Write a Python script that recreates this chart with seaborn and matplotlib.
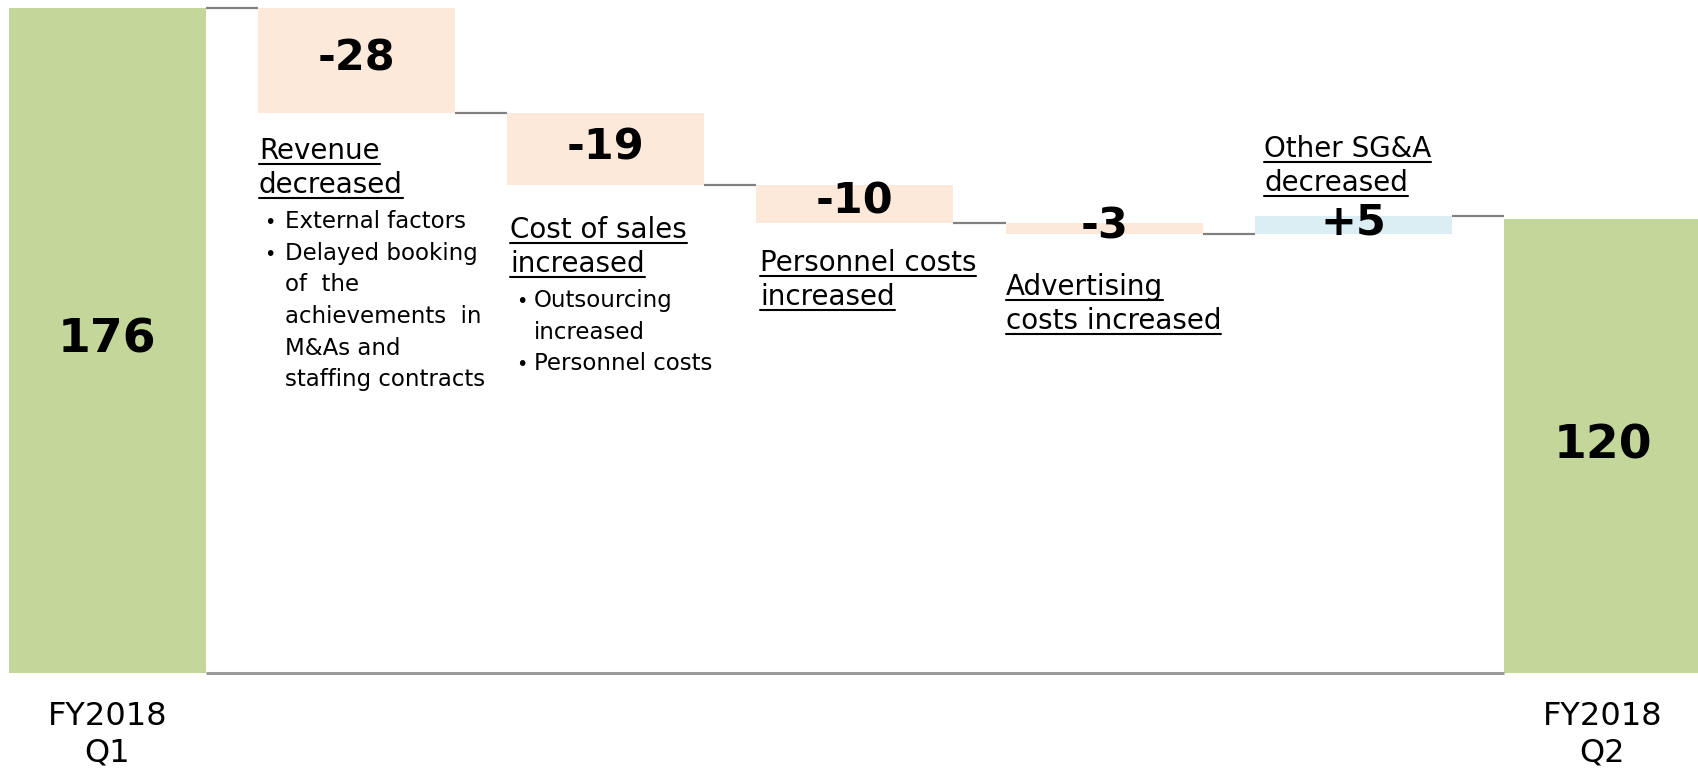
import matplotlib
matplotlib.use("Agg")
import matplotlib.pyplot as plt
import seaborn as sns
import numpy as np
from matplotlib.lines import Line2D

sns.set_theme(style="white")
plt.rcParams['font.family'] = ['DejaVu Sans']

# ---- data ----
categories = ["FY2018 Q1", "Revenue", "Cost of sales", "Personnel", "Advertising", "Other SG&A", "FY2018 Q2"]
values = [176, -28, -19, -10, -3, 5, 120]
is_total = [True, False, False, False, False, False, True]
value_labels = ["176", "-28", "-19", "-10", "-3", "+5", "120"]
axis_labels = ["FY2018\nQ1", "", "", "", "", "", "FY2018\nQ2"]
headings = [None, ["Revenue", "decreased"], ["Cost of sales", "increased"],
            ["Personnel costs", "increased"], ["Advertising", "costs increased"],
            ["Other SG&A", "decreased"], None]
bullets = [None,
           [("External factors",), ("Delayed booking", "of  the", "achievements  in", "M&As and", "staffing contracts")],
           [("Outsourcing", "increased"), ("Personnel costs",)],
           None, None, None, None]

# ---- waterfall geometry from values ----
heights, bottoms, levels = [], [], []
running = 0
for v, tot in zip(values, is_total):
    if tot:
        heights.append(v); bottoms.append(0); running = v
    else:
        new = running + v
        heights.append(abs(v)); bottoms.append(min(running, new)); running = new
    levels.append(running)

GREEN, PEACH, BLUE = "#C4D79B", "#FDE9D9", "#DAEEF3"
colors = [GREEN if t else (PEACH if v < 0 else BLUE) for v, t in zip(values, is_total)]

W, H = 1699, 769
fig = plt.figure(figsize=(W / 100, H / 100), dpi=100)
ax = fig.add_axes([0, 0, 1, 1])
bw = 0.79
sns.barplot(x=categories, y=heights, order=categories, bottom=bottoms, width=bw,
            color=GREEN, linewidth=0, saturation=1, ax=ax)
for p, c in zip(ax.patches, colors):
    p.set_facecolor(c)
    p.set_edgecolor("none")

ax.set_xlim(-0.4306, 6.387)
ax.set_ylim(-25.4, 178.0)
ax.axis("off")

n = len(values)
# connectors
for i in range(n - 1):
    ax.hlines(levels[i], i + bw / 2, i + 1 - bw / 2, color="#808080", lw=1.6, zorder=3)
# baseline
ax.hlines(0, bw / 2, n - 1 - bw / 2, color="#999999", lw=2.2, zorder=3)

# value labels
for i in range(n):
    if is_total[i]:
        ax.text(i, heights[i] / 2, value_labels[i], ha="center", va="center",
                fontsize=34, fontweight="bold", color="black", zorder=5)
    else:
        ax.text(i, bottoms[i] + heights[i] / 2 + 0.6, value_labels[i], ha="center", va="center",
                fontsize=31, fontweight="bold", color="black", zorder=5)

# category labels under totals
for i in range(n):
    if axis_labels[i]:
        l1, l2 = axis_labels[i].split("\n")
        ax.text(i, -11.5, l1, ha="center", va="center", fontsize=23, color="black")
        ax.text(i, -21.3, l2, ha="center", va="center", fontsize=23, color="black")

def fy(yp):
    return 1 - yp / H

def fx(xp):
    return xp / W

# heading positions (pixel layout)
head_pos = {1: (259, 159), 2: (510, 238), 3: (760, 271), 4: (1006, 295), 5: (1264, 157)}
head_gap = 34
bullet_pos = {1: (264, 285, 228), 2: (516, 534, 307)}
bullet_gap = 31.7

underlines = []
for i, (xp, yp) in head_pos.items():
    for k, line in enumerate(headings[i]):
        t = fig.text(fx(xp), fy(yp + k * head_gap), line, ha="left", va="baseline",
                     fontsize=20, color="black")
        underlines.append((t, yp + k * head_gap + 5))

for i, (bx, tx, yp) in bullet_pos.items():
    row = 0
    for group in bullets[i]:
        fig.text(fx(bx), fy(yp + row * bullet_gap), "•", ha="left", va="baseline",
                 fontsize=14, color="black")
        for line in group:
            fig.text(fx(tx), fy(yp + row * bullet_gap), line, ha="left", va="baseline",
                     fontsize=16.5, color="black")
            row += 1

fig.canvas.draw()
r = fig.canvas.get_renderer()
for t, uy in underlines:
    bb = t.get_window_extent(renderer=r)
    fig.add_artist(Line2D([bb.x0 / W, bb.x1 / W], [fy(uy), fy(uy)],
                          transform=fig.transFigure, color="black", lw=1.5))

fig.savefig("out.png", dpi=100, facecolor="white")
